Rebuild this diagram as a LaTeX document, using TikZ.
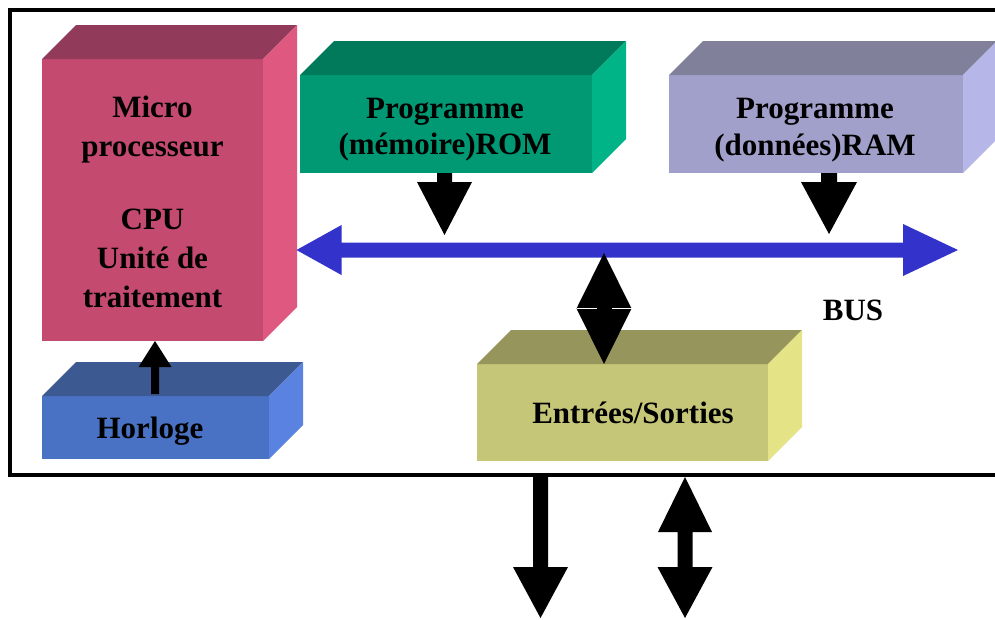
\documentclass[tikz,border=0pt]{standalone}
\usepackage{fontspec}
\setmainfont{Liberation Serif}
\usetikzlibrary{calc}
\definecolor{cpufront}{RGB}{196,74,112}
\definecolor{cputop}{RGB}{145,58,90}
\definecolor{cpuside}{RGB}{222,88,128}
\definecolor{horfront}{RGB}{74,114,196}
\definecolor{hortop}{RGB}{60,90,145}
\definecolor{horside}{RGB}{90,130,225}
\definecolor{romfront}{RGB}{0,153,115}
\definecolor{romtop}{RGB}{0,122,90}
\definecolor{romside}{RGB}{0,180,135}
\definecolor{ramfront}{RGB}{160,160,202}
\definecolor{ramtop}{RGB}{128,128,154}
\definecolor{ramside}{RGB}{182,182,232}
\definecolor{iofront}{RGB}{198,198,120}
\definecolor{iotop}{RGB}{150,150,92}
\definecolor{ioside}{RGB}{228,228,135}
\definecolor{busblue}{RGB}{51,51,204}
\newcommand\boxfont{\fontsize{31}{39}\selectfont\bfseries}
\newcommand\cubefaces[3]{%
  \fill[#2] (#1.north west) -- ++(34,-34) -- ($(#1.north east)+(34,-34)$) -- (#1.north east) -- cycle;
  \fill[#3] (#1.north east) -- ++(34,-34) -- ($(#1.south east)+(34,-34)$) -- (#1.south east) -- cycle;}
\tikzset{
  face/.style={inner sep=0pt, outer sep=0pt, fill=#1},
  boxtext/.style={inner sep=0pt, align=center, font=\boxfont, text=black},
}
\begin{document}
\begin{tikzpicture}[x=1pt,y=-1pt]
\useasboundingbox (0,0) rectangle (995,619);
\clip (0,0) rectangle (995,619);
\fill[white] (0,0) rectangle (995,619);
% frame
\node (frame) [draw=black, line width=4pt, inner sep=0pt, outer sep=0pt,
  minimum width=1000pt, minimum height=465pt] at (510,242.5) {};
% boxes
\node (cpu) [face=cpufront, minimum width=221pt, minimum height=282pt] at (152.5,200) {};
\cubefaces{cpu}{cputop}{cpuside}
\node (hor) [face=horfront, minimum width=227pt, minimum height=63pt] at (155.5,427.5) {};
\cubefaces{hor}{hortop}{horside}
\node (rom) [face=romfront, minimum width=292pt, minimum height=98pt] at (446,124) {};
\cubefaces{rom}{romtop}{romside}
\node (ram) [face=ramfront, minimum width=294pt, minimum height=98pt] at (816,124) {};
\cubefaces{ram}{ramtop}{ramside}
\node (io) [face=iofront, minimum width=291pt, minimum height=97pt] at (622.5,412.5) {};
\cubefaces{io}{iotop}{ioside}
% texts
\node (cputxt) [boxtext] at ($(cpu.center)+(0,2)$) {Micro\\processeur\\[34pt]CPU\\Unité de\\traitement};
\node (romtxt) [boxtext] at ($(rom.center)+(-1,5.5)$) {Programme\\[-3pt](mémoire)ROM};
\node (ramtxt) [boxtext] at ($(ram.center)+(-1,6.5)$) {Programme\\[-2pt](données)RAM};
\node (hortxt) [boxtext] at ($(hor.center)+(-5.5,3.5)$) {Horloge};
\node (iotxt) [boxtext] at ($(io.center)+(10.5,0)$) {Entrées/Sorties};
\node (bustxt) [boxtext] at (853,310) {BUS};
% bus
\coordinate (busL) at ($(cpu.east)+(33.5,50)$);
\coordinate (busR) at (958,250);
\fill[busblue] (busL) -- ++(45,-25) -- ++(0,17.5) -- ($(busR)+(-55,-7.5)$) -- ++(0,-18.5)
  -- (busR) -- ++(-55,26) -- ++(0,-18.5) -- ($(busL)+(45,7.5)$) -- ++(0,17.5) -- cycle;
% ROM -> bus
\coordinate (romtop) at ($(rom.south)+(-1.5,0)$);
\coordinate (romtip) at ($(romtop)+(0,62)$);
\fill[black] (romtop) ++(-7.5,0) -- ++(15,0) -- ++(0,9) -- ++(20,0) -- (romtip)
  -- ++(-27.5,-53) -- ++(20,0) -- cycle;
% RAM -> bus
\coordinate (ramtop) at ($(ram.south)+(13,0)$);
\coordinate (ramtip) at ($(ramtop)+(0,61)$);
\fill[black] (ramtop) ++(-8,0) -- ++(16,0) -- ++(0,9) -- ++(20,0) -- (ramtip)
  -- ++(-28,-52) -- ++(20,0) -- cycle;
% Horloge -> CPU
\coordinate (clktip) at ($(cpu.south west)+(113,0)$);
\coordinate (clktail) at ($(hor.north west)+(113,-2)$);
\fill[black] (clktail) ++(-4,0) -- ++(0,-27) -- ++(-12.5,0) -- (clktip)
  -- ++(16.5,26) -- ++(-12.5,0) -- ++(0,27) -- cycle;
% bus <-> IO
\coordinate (iotip) at (604,253);
\coordinate (iobot) at ($(io.north west)+(127,0)$);
\coordinate (iomid) at ($(iotip)!0.5!(iobot)$);
\fill[black] (iotip) -- ($(iomid)+(27.5,0)$) -- (iobot) -- ($(iomid)+(-27.5,0)$) -- cycle;
\draw[white, line width=1.3pt] ($(iomid)+(-27.5,0)$) -- ++(20,0);
\draw[white, line width=1.3pt] ($(iomid)+(7.5,0)$) -- ++(20,0);
% outputs
\coordinate (outtail) at ($(frame.south west)+(530.5,2)$);
\coordinate (outtip) at (540.5,618);
\fill[black] (outtail) ++(-7.5,0) -- ++(15,0) -- ++(0,90) -- ++(20,0) -- (outtip)
  -- ++(-27.5,-51) -- ++(20,0) -- cycle;
\coordinate (dtop) at ($(frame.south west)+(675,2)$);
\coordinate (dbot) at (685,618);
\fill[black] (dtop) -- ++(27,55) -- ++(-19.5,0) -- ++(0,35) -- ++(20,0) -- (dbot)
  -- ++(-27.5,-51) -- ++(20,0) -- ++(0,-35) -- ++(-19.5,0) -- cycle;
\end{tikzpicture}
\end{document}
